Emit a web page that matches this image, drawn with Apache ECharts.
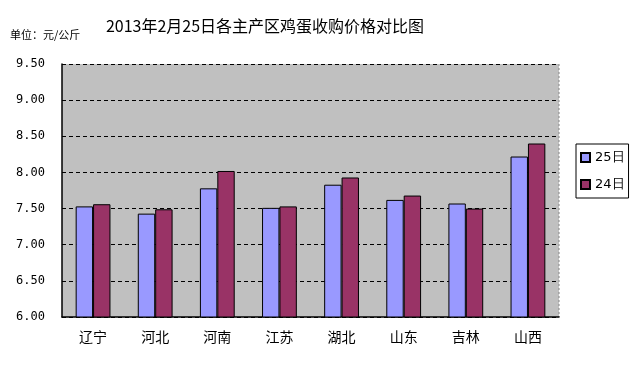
<!DOCTYPE html>
<html><head><meta charset="utf-8">
<script src="https://cdn.jsdelivr.net/npm/echarts@6/dist/echarts.min.js"></script>
<style>html,body{margin:0;padding:0;background:#fff}#c{width:640px;height:368px}</style>
</head><body><div id="c"></div>
<script>
const categories = ['辽宁','河北','河南','江苏','湖北','山东','吉林','山西'];
const day25 = [7.53, 7.43, 7.78, 7.51, 7.83, 7.62, 7.57, 8.22];
const day24 = [7.56, 7.49, 8.02, 7.53, 7.93, 7.68, 7.50, 8.40];
const seriesNames = ['25日','24日'];
const titleText = '2013年2月25日各主产区鸡蛋收购价格对比图';
const unitText = '单位：元/公斤';

const chart = echarts.init(document.getElementById('c'), null, {renderer:'canvas'});
chart.setOption({
  backgroundColor:'#fff',
  animation:false,
  title:[
    {text:titleText, left:260, top:13, textAlign:'center',
     textStyle:{fontFamily:'Noto Sans CJK SC', fontSize:16, fontWeight:'normal', color:'#000'}},
    {text:unitText, left:5, top:24,
     textStyle:{fontFamily:'Noto Sans CJK SC', fontSize:11, fontWeight:'normal', color:'#000'}}
  ],
  legend:{
    orient:'vertical', left:576, top:144, itemWidth:9, itemHeight:9, itemGap:14,
    padding:[7,4,7,4], borderColor:'#000', borderWidth:1, backgroundColor:'#fff',
    textStyle:{fontFamily:'DejaVu Sans', fontSize:13, color:'#000'},
    data:seriesNames.map(n=>({name:n, icon:'rect'}))
  },
  grid:{left:62, top:64, right:81, bottom:51, backgroundColor:'#C0C0C0', show:true, borderWidth:0},
  xAxis:{
    type:'category', data:categories,
    axisLine:{lineStyle:{color:'#000', width:1.5}},
    axisTick:{inside:true, length:4, lineStyle:{color:'#000'}},
    axisLabel:{fontFamily:'Noto Sans CJK SC', fontSize:14, color:'#000', margin:13}
  },
  yAxis:{
    type:'value', min:6, max:9.5, interval:0.5,
    axisLine:{show:true, lineStyle:{color:'#000', width:1.5}},
    axisTick:{show:false},
    axisLabel:{fontFamily:'DejaVu Sans Mono', fontSize:12, color:'#000', margin:17,
      formatter:v=>v.toFixed(2)},
    splitLine:{show:true, lineStyle:{color:'#000', type:[4,3], width:1}}
  },
  series:[
    {name:seriesNames[0], type:'bar', data:day25, barGap:'0%', barCategoryGap:'44%',
     itemStyle:{color:'#9999FF', borderColor:'#000', borderWidth:1}},
    {name:seriesNames[1], type:'bar', data:day24,
     itemStyle:{color:'#993366', borderColor:'#000', borderWidth:1}}
  ],
  graphic:[{type:'line', shape:{x1:559, y1:64, x2:559, y2:317},
    style:{stroke:'#888', lineDash:[2,2], lineWidth:1}}]
});
</script></body></html>
